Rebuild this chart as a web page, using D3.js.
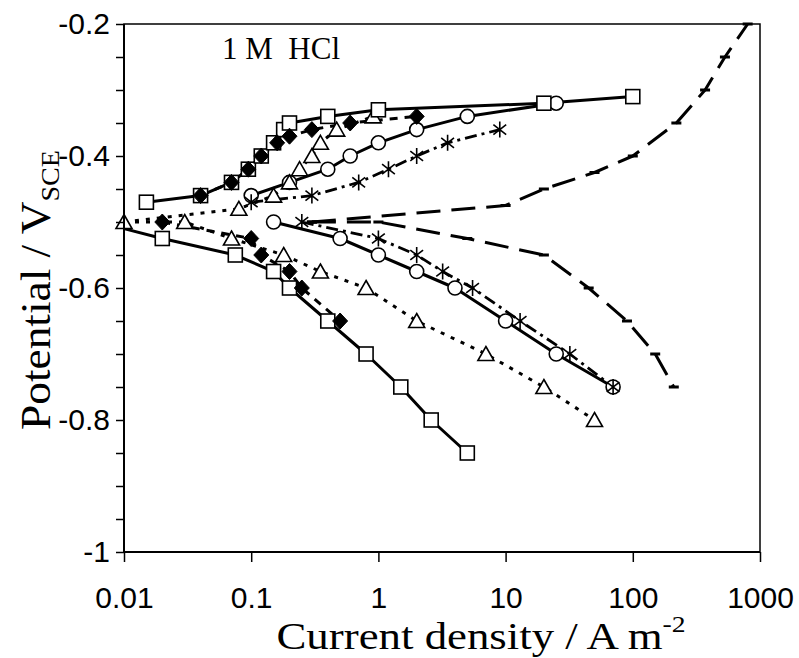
<!DOCTYPE html>
<html><head><meta charset="utf-8">
<script src="https://cdn.jsdelivr.net/npm/d3@7"></script>
<style>body{margin:0;background:#fff}</style>
</head><body>
<svg id="c" width="799" height="658"></svg>
<script>
// ---- data (current density A m^-2, potential V_SCE) ----
const xTicks = [0.01, 0.1, 1, 10, 100, 1000];
const yTicks = [-1, -0.8, -0.6, -0.4, -0.2];
const yMinor = [-0.95,-0.9,-0.85,-0.75,-0.7,-0.65,-0.55,-0.5,-0.45,-0.35,-0.3,-0.25];

const sqAnodicI = [0.015, 0.04, 0.07, 0.095, 0.12, 0.15, 0.18, 0.2, 0.4, 1, 20, 100];
const sqAnodicE = [-0.47, -0.46, -0.44, -0.42, -0.40, -0.38, -0.36, -0.35, -0.34, -0.33, -0.32, -0.31];
const sqCathodicI = [0.01, 0.02, 0.075, 0.15, 0.2, 0.4, 0.8, 1.5, 2.6, 5];
const sqCathodicE = [-0.51, -0.525, -0.55, -0.575, -0.6, -0.65, -0.7, -0.75, -0.8, -0.85];

const diaAnodicI = [0.04, 0.07, 0.095, 0.12, 0.16, 0.2, 0.3, 0.6, 2];
const diaAnodicE = [-0.46, -0.44, -0.42, -0.40, -0.38, -0.37, -0.36, -0.35, -0.34];
const diaCathodicI = [0.02, 0.1, 0.12, 0.2, 0.25, 0.5];
const diaCathodicE = [-0.5, -0.525, -0.55, -0.575, -0.6, -0.65];

const triAnodicI = [0.01, 0.08, 0.15, 0.2, 0.24, 0.3, 0.35, 0.47, 0.91];
const triAnodicE = [-0.5, -0.48, -0.46, -0.44, -0.42, -0.40, -0.38, -0.36, -0.34];
const triCathodicI = [0.01, 0.03, 0.07, 0.18, 0.35, 0.8, 2, 7, 20, 50];
const triCathodicE = [-0.5, -0.5, -0.525, -0.55, -0.575, -0.6, -0.65, -0.7, -0.75, -0.8];

const cirAnodicI = [0.1, 0.2, 0.4, 0.6, 1, 2, 5, 25];
const cirAnodicE = [-0.46, -0.44, -0.42, -0.40, -0.38, -0.36, -0.34, -0.32];
const cirCathodicI = [0.15, 0.5, 1, 2, 4, 10, 25, 70];
const cirCathodicE = [-0.5, -0.525, -0.55, -0.575, -0.6, -0.65, -0.7, -0.75];

const astAnodicI = [0.1, 0.3, 0.7, 1.2, 2, 3.5, 9];
const astAnodicE = [-0.47, -0.46, -0.44, -0.42, -0.40, -0.38, -0.36];
const astCathodicI = [0.25, 1, 2, 3.2, 5.5, 13, 32, 70];
const astCathodicE = [-0.5, -0.525, -0.55, -0.575, -0.6, -0.65, -0.7, -0.75];

const ldAnodicI = [0.3, 10, 20, 50, 100, 220, 370, 530, 800];
const ldAnodicE = [-0.5, -0.475, -0.45, -0.425, -0.4, -0.35, -0.3, -0.25, -0.2];
const ldCathodicI = [0.3, 1, 5, 20, 45, 90, 150, 210];
const ldCathodicE = [-0.5, -0.5, -0.525, -0.55, -0.6, -0.65, -0.7, -0.75];

// ---- chart ----
const svg = d3.select('#c');
const x = d3.scaleLog().domain([0.01, 1000]).range([124, 760]);
const y = d3.scaleLinear().domain([-1, -0.2]).range([552, 24]);
const zip = (a, b) => a.map((v, i) => [v, b[i]]);
const line = d3.line().x(d => x(d[0])).y(d => y(d[1]));

// frame
svg.append('rect').attr('x', 124).attr('y', 24).attr('width', 636).attr('height', 528)
  .attr('fill', 'none').attr('stroke', '#000').attr('stroke-width', 1.5);

const plot = svg.append('g');

function drawLine(I, E, dash, w) {
  plot.append('path').datum(zip(I, E)).attr('d', line)
    .attr('fill', 'none').attr('stroke', '#000').attr('stroke-width', w)
    .attr('stroke-dasharray', dash).attr('stroke-linejoin', 'round');
}
function drawMarkers(I, E, kind, skipFirst) {
  let pts = zip(I, E);
  if (skipFirst) pts = pts.slice(1);
  const g = plot.append('g');
  pts.forEach(p => {
    const cx = x(p[0]), cy = y(p[1]);
    if (kind === 'square') {
      g.append('rect').attr('x', cx - 7).attr('y', cy - 7).attr('width', 14).attr('height', 14)
        .attr('fill', '#fff').attr('stroke', '#000').attr('stroke-width', 1.6);
    } else if (kind === 'circle') {
      g.append('circle').attr('cx', cx).attr('cy', cy).attr('r', 7)
        .attr('fill', '#fff').attr('stroke', '#000').attr('stroke-width', 1.6);
    } else if (kind === 'triangle') {
      g.append('path').attr('d', `M${cx},${cy - 7.5}L${cx + 8},${cy + 6.5}L${cx - 8},${cy + 6.5}Z`)
        .attr('fill', '#fff').attr('stroke', '#000').attr('stroke-width', 1.6);
    } else if (kind === 'diamond') {
      g.append('path').attr('d', `M${cx},${cy - 8}L${cx + 7.5},${cy}L${cx},${cy + 8}L${cx - 7.5},${cy}Z`)
        .attr('fill', '#000').attr('stroke', '#000').attr('stroke-width', 1);
    } else if (kind === 'asterisk') {
      const s = 8, a = s * 0.8, b = s * 0.62;
      g.append('path').attr('d', `M${cx},${cy - s}V${cy + s}M${cx - a},${cy - b}L${cx + a},${cy + b}M${cx - a},${cy + b}L${cx + a},${cy - b}`)
        .attr('fill', 'none').attr('stroke', '#000').attr('stroke-width', 1.6);
    } else if (kind === 'dash') {
      g.append('rect').attr('x', cx - 5).attr('y', cy - 1.5).attr('width', 10).attr('height', 3).attr('fill', '#000');
    }
  });
}

// long dashed (no symbol)
drawLine(ldAnodicI, ldAnodicE, '24,11', 3);
drawLine(ldCathodicI, ldCathodicE, '24,11', 3);
drawMarkers(ldAnodicI, ldAnodicE, 'dash');
drawMarkers(ldCathodicI, ldCathodicE, 'dash');
// asterisks
drawLine(astAnodicI, astAnodicE, '12,5,3,5', 2.8);
drawLine(astCathodicI, astCathodicE, '12,5,3,5', 2.8);
// circles
drawLine(cirAnodicI, cirAnodicE, null, 3);
drawLine(cirCathodicI, cirCathodicE, null, 3);
// triangles
drawLine(triAnodicI, triAnodicE, '4,7', 3);
drawLine(triCathodicI, triCathodicE, '4,7', 3);
// squares
drawLine(sqAnodicI, sqAnodicE, null, 3);
drawLine(sqCathodicI, sqCathodicE, null, 3);
// diamonds
drawLine(diaAnodicI, diaAnodicE, '8,7', 3);
drawLine(diaCathodicI, diaCathodicE, '8,7', 3);

drawMarkers(cirAnodicI, cirAnodicE, 'circle');
drawMarkers(cirCathodicI, cirCathodicE, 'circle');
drawMarkers(astAnodicI, astAnodicE, 'asterisk');
drawMarkers(astCathodicI, astCathodicE, 'asterisk');
drawMarkers(triAnodicI, triAnodicE, 'triangle');
drawMarkers(triCathodicI, triCathodicE, 'triangle', true);
drawMarkers(sqAnodicI, sqAnodicE, 'square');
drawMarkers(sqCathodicI, sqCathodicE, 'square', true);
drawMarkers(diaAnodicI, diaAnodicE, 'diamond');
drawMarkers(diaCathodicI, diaCathodicE, 'diamond');

// axes
const yAxis = svg.append('g').attr('transform', 'translate(124,0)')
  .call(d3.axisLeft(y).tickValues(yTicks).tickSize(8).tickPadding(6).tickFormat(d => String(d)));
svg.append('g').attr('transform', 'translate(124,0)')
  .call(d3.axisLeft(y).tickValues(yMinor).tickSize(8).tickFormat(''))
  .select('.domain').remove();
const xAxis = svg.append('g').attr('transform', 'translate(0,552)')
  .call(d3.axisBottom(x).tickValues(xTicks).tickSize(10).tickPadding(25).tickFormat(d => String(d)));
svg.selectAll('.domain').attr('stroke-width', 2).attr('d', null);
yAxis.select('.domain').attr('d', 'M0,24V552');
xAxis.select('.domain').attr('d', 'M124,0H760');
svg.selectAll('.tick line').attr('stroke-width', 1.5);
svg.selectAll('.tick text').attr('font-family', '"Liberation Sans", Arial, sans-serif')
  .attr('font-size', 30).attr('fill', '#000');

// labels
svg.append('text').attr('x', 222).attr('y', 59)
  .attr('font-family', '"Liberation Serif", "Times New Roman", serif').attr('font-size', 31)
  .text('1 M\u00a0\u00a0HCl');

const xl = svg.append('text').attr('transform', 'translate(481,649) scale(1.15,1)').attr('text-anchor', 'middle')
  .attr('font-family', '"Liberation Serif", "Times New Roman", serif').attr('font-size', 39);
xl.append('tspan').text('Current density / A m');
xl.append('tspan').attr('font-size', 24).attr('dy', -17).text('-2');

const yl = svg.append('text').attr('transform', 'translate(50,290) rotate(-90) scale(1.08,1)').attr('text-anchor', 'middle')
  .attr('font-family', '"Liberation Serif", "Times New Roman", serif').attr('font-size', 42);
yl.append('tspan').text('Potential / V');
yl.append('tspan').attr('font-size', 26).attr('dy', 9).text('SCE');
</script>
</body></html>
